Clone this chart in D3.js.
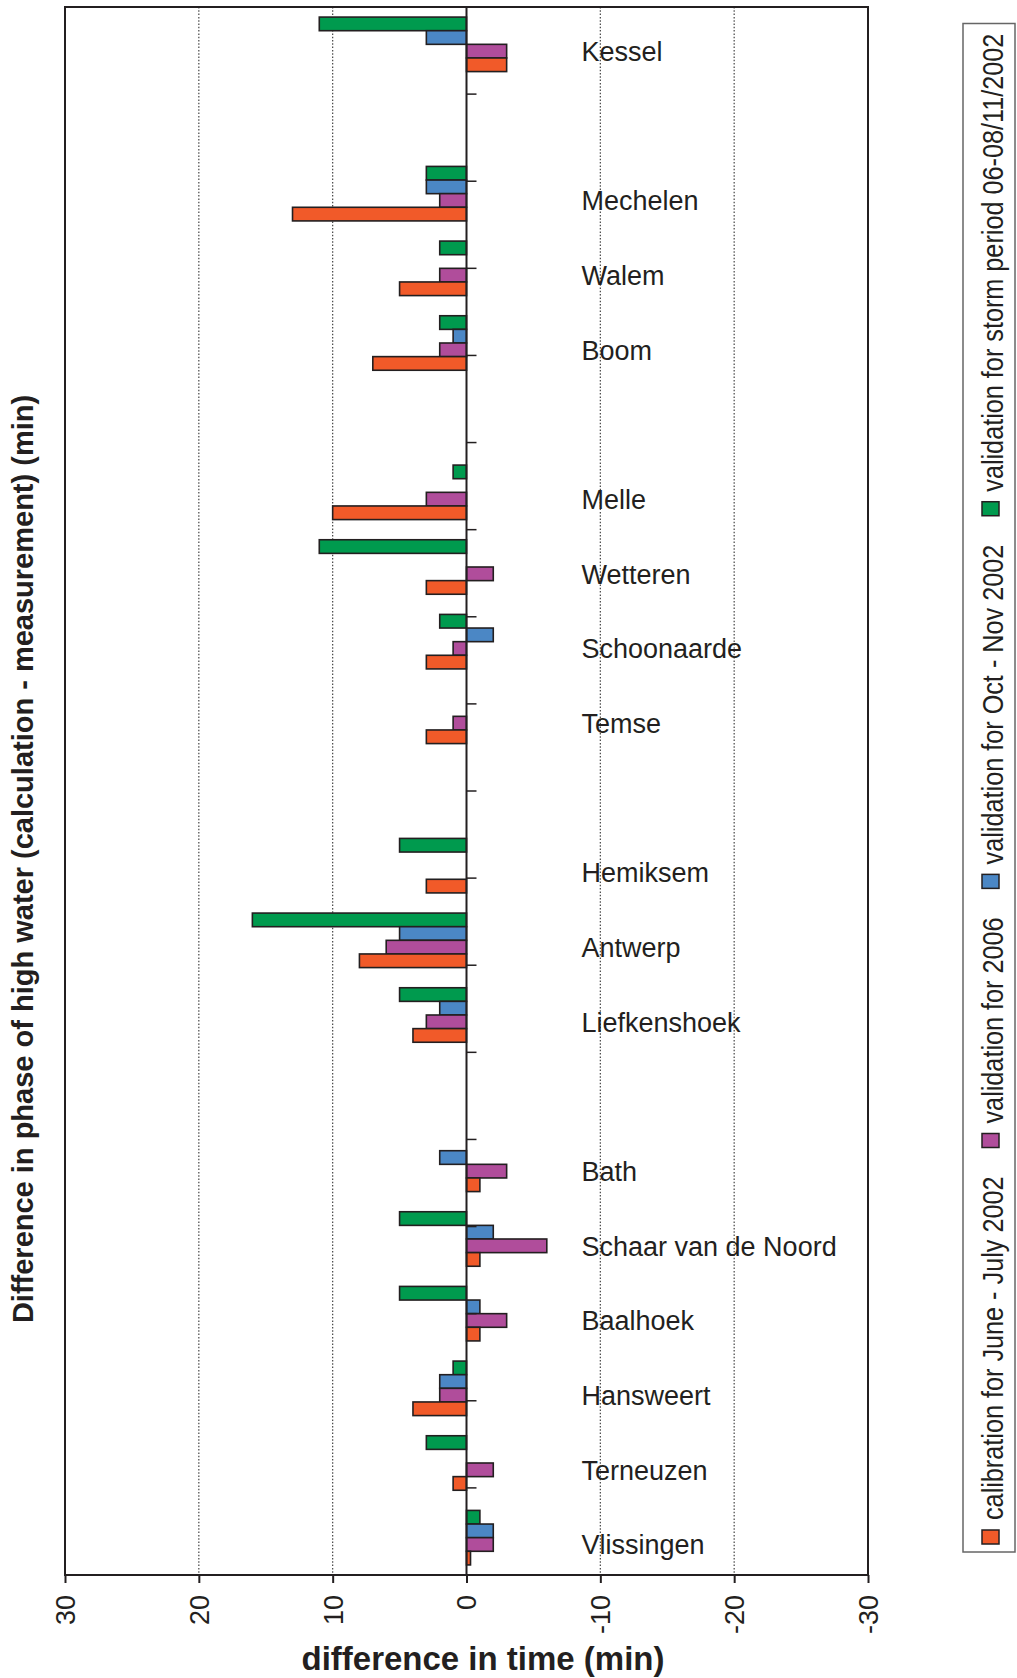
<!DOCTYPE html>
<html>
<head>
<meta charset="utf-8">
<script src="https://cdn.jsdelivr.net/npm/d3@7/dist/d3.min.js"></script>
<style>
  body { margin: 0; background: #fff; }
  text { font-family: "Liberation Sans", Arial, sans-serif; fill: #231f20; }
</style>
</head>
<body>
<div id="chart-area"></div>
<script>
// stations from upstream (top) to the sea (bottom), "" = empty slot
var stations = ["Kessel", "", "Mechelen", "Walem", "Boom", "", "Melle", "Wetteren", "Schoonaarde", "Temse", "",
    "Hemiksem", "Antwerp", "Liefkenshoek", "", "Bath", "Schaar van de Noord", "Baalhoek", "Hansweert", "Terneuzen", "Vlissingen"];

// difference in time (min), one value per station slot, null = no bar
var storm2002  = [11, null, 3, 2, 2, null, 1, 11, 2, null, null, 5, 16, 5, null, null, 5, 5, 1, 3, -1];
var octNov2002 = [3, null, 3, null, 1, null, null, null, -2, null, null, null, 5, 2, null, 2, -2, -1, 2, null, -2];
var val2006    = [-3, null, 2, 2, 2, null, 3, -2, 1, 1, null, null, 6, 3, null, -3, -6, -3, 2, -2, -2];
var calib2002  = [-3, null, 13, 5, 7, null, 10, 3, 3, 3, null, 3, 8, 4, null, -1, -1, -1, 4, 1, -0.3];

var xTicks = [30, 20, 10, 0, -10, -20, -30];
var gridValues = [20, 10, -10, -20];

// order inside a group, top to bottom
var series = [
    { key: "storm", label: "validation for storm period 06-08/11/2002", values: storm2002, color: "#009a4e" },
    { key: "octnov", label: "validation for Oct - Nov 2002", values: octNov2002, color: "#4b87c5" },
    { key: "y2006", label: "validation for 2006", values: val2006, color: "#b04d9b" },
    { key: "calib", label: "calibration for June - July 2002", values: calib2002, color: "#f15a29" }
];

var W = 1017, H = 1678;
var plot = { left: 65, right: 868, top: 7, bottom: 1575 };
var ink = "#231f20";

var svg = d3.select("#chart-area")
    .append("svg")
    .attr("width", W)
    .attr("height", H);

// X SCALE (reversed: positive to the left)
var x = d3.scaleLinear()
    .domain([30, -30])
    .range([plot.left, plot.right]);

// Y SCALE (station slots)
var y = d3.scaleBand()
    .domain(d3.range(stations.length))
    .range([plot.top, plot.bottom])
    .paddingInner(0.27)
    .paddingOuter(0.135);

var ySub = d3.scaleBand()
    .domain(series.map(function (s) { return s.key }))
    .range([0, y.bandwidth()]);

// dotted grid
svg.append("g")
    .selectAll("line")
    .data(gridValues)
    .enter().append("line")
    .attr("x1", function (d) { return x(d) })
    .attr("x2", function (d) { return x(d) })
    .attr("y1", plot.top)
    .attr("y2", plot.bottom)
    .attr("stroke", "#444")
    .attr("stroke-width", 1.2)
    .attr("stroke-dasharray", "1.5,1.8");

// X AXIS
var xAxisCall = d3.axisBottom(x)
    .tickValues(xTicks)
    .tickSize(8)
    .tickFormat(function (d) { return d });

var xAxisGroup = svg.append("g")
    .attr("transform", "translate(0," + plot.bottom + ")")
    .call(xAxisCall);

xAxisGroup.select(".domain").remove();
xAxisGroup.selectAll(".tick line").attr("stroke", ink).attr("stroke-width", 2);
xAxisGroup.selectAll(".tick text")
    .attr("font-size", "27px")
    .attr("font-family", "'Liberation Sans', Arial, sans-serif")
    .attr("fill", ink)
    .attr("text-anchor", "end")
    .attr("x", 0)
    .attr("y", 0)
    .attr("dy", "0.35em")
    .attr("transform", "translate(0,20) rotate(-90)");

// bars
var groups = svg.append("g")
    .selectAll("g")
    .data(series)
    .enter().append("g")
    .attr("fill", function (s) { return s.color });

groups.selectAll("rect")
    .data(function (s) {
        return s.values.map(function (v, i) { return { key: s.key, i: i, v: v } })
            .filter(function (d) { return d.v !== null });
    })
    .enter().append("rect")
    .attr("x", function (d) { return Math.min(x(d.v), x(0)) })
    .attr("y", function (d) { return y(d.i) + ySub(d.key) })
    .attr("width", function (d) { return Math.abs(x(d.v) - x(0)) })
    .attr("height", ySub.bandwidth())
    .attr("stroke", ink)
    .attr("stroke-width", 1.6);

// zero line with its small slot ticks
svg.append("line")
    .attr("x1", x(0)).attr("x2", x(0))
    .attr("y1", plot.top).attr("y2", plot.bottom)
    .attr("stroke", ink)
    .attr("stroke-width", 2);

var yTickScale = d3.scaleLinear().domain([0, 18]).range([plot.top, plot.bottom]);
svg.append("g")
    .selectAll("line")
    .data(d3.range(1, 18))
    .enter().append("line")
    .attr("x1", x(0))
    .attr("x2", x(0) + 10)
    .attr("y1", function (d) { return yTickScale(d) })
    .attr("y2", function (d) { return yTickScale(d) })
    .attr("stroke", ink)
    .attr("stroke-width", 1.5);

// frame
svg.append("rect")
    .attr("x", plot.left)
    .attr("y", plot.top)
    .attr("width", plot.right - plot.left)
    .attr("height", plot.bottom - plot.top)
    .attr("fill", "none")
    .attr("stroke", ink)
    .attr("stroke-width", 2);

// station labels
svg.append("g")
    .selectAll("text")
    .data(stations)
    .enter().append("text")
    .attr("x", x(0) + 115)
    .attr("y", function (d, i) { return y(i) + y.bandwidth() / 2 + 7 })
    .attr("dy", "0.36em")
    .attr("font-size", "27px")
    .text(function (d) { return d });

// X LABEL
svg.append("text")
    .attr("x", 483)
    .attr("y", 1670)
    .attr("font-size", "33px")
    .attr("font-weight", "bold")
    .attr("text-anchor", "middle")
    .text("difference in time (min)");

// Y LABEL
svg.append("text")
    .attr("transform", "translate(33,859) rotate(-90)")
    .attr("font-size", "29px")
    .attr("font-weight", "bold")
    .attr("text-anchor", "middle")
    .text("Difference in phase of high water (calculation - measurement) (min)");

// LEGEND (rotated, reads bottom to top, narrow type)
svg.append("rect")
    .attr("x", 963)
    .attr("y", 23.5)
    .attr("width", 52)
    .attr("height", 1552 - 23.5)
    .attr("fill", "none")
    .attr("stroke", "#666")
    .attr("stroke-width", 1.5);

var condense = 0.87;
var legendItems = series.slice().reverse();
var pos = 1544;
legendItems.forEach(function (s) {
    svg.append("rect")
        .attr("x", 982)
        .attr("y", pos - 14)
        .attr("width", 17)
        .attr("height", 14)
        .attr("fill", s.color)
        .attr("stroke", ink)
        .attr("stroke-width", 1.5);
    pos -= 24;
    var t = svg.append("text")
        .attr("transform", "translate(1003," + pos + ") rotate(-90) scale(" + condense + ",1)")
        .attr("font-size", "29px")
        .text(s.label);
    pos -= t.node().getComputedTextLength() * condense + 29;
});
</script>
</body>
</html>
